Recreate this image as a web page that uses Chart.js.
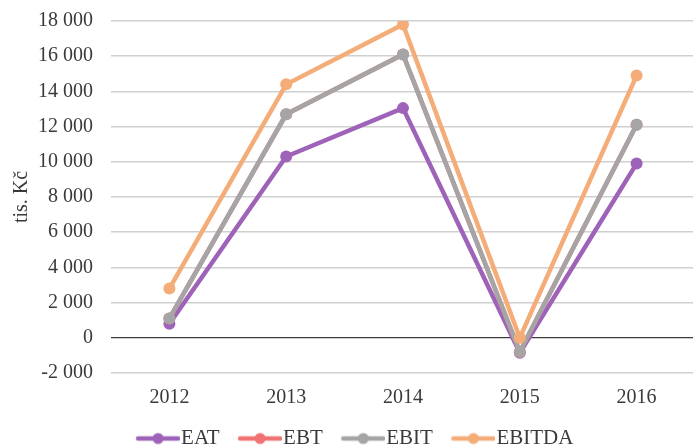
<!DOCTYPE html>
<html>
<head>
<meta charset="utf-8">
<script src="https://cdn.jsdelivr.net/npm/chart.js@4/dist/chart.umd.min.js"></script>
<style>
  html, body { margin: 0; padding: 0; background: #fff; overflow: hidden; }
  #wrap { width: 693px; height: 445px; overflow: hidden; position: relative; }
  #box { position: absolute; left: 0; top: 0; width: 701px; height: 459px; }
</style>
</head>
<body>
<div id="wrap"><div id="box"><canvas id="c"></canvas></div></div>
<script>
// Years on the category axis
const years = ['2012', '2013', '2014', '2015', '2016'];

// Profit indicators, thousands of CZK
const eat    = [800, 10300, 13050, -850, 9900];
const ebt    = [1100, 12700, 16100, -800, 12100];
const ebit   = [1100, 12700, 16100, -800, 12100];
const ebitda = [2800, 14400, 17800, 0, 14900];

const seriesNames = ['EAT', 'EBT', 'EBIT', 'EBITDA'];
const seriesColors = ['#9e63b8', '#f07272', '#a5a5a5', '#f4ad78'];

const yAxisTitle = 'tis. Kč';
const yMin = -2000, yMax = 18000, yStep = 2000;

const FONT = '"Liberation Serif", "Times New Roman", serif';

// line-with-marker legend symbol; the drawn part sits right of the
// image centre so it ends just before the label text
function swatch(color) {
  const c = document.createElement('canvas');
  c.width = 62; c.height = 14;
  const g = c.getContext('2d');
  g.strokeStyle = color; g.lineWidth = 4.5; g.lineCap = 'round';
  g.beginPath(); g.moveTo(20, 7); g.lineTo(60, 7); g.stroke();
  g.fillStyle = color;
  g.beginPath(); g.arc(40, 7, 5.5, 0, Math.PI * 2); g.fill();
  return c;
}

function fmt(v) {
  const s = Math.abs(v).toString().replace(/\B(?=(\d{3})+(?!\d))/g, '\u00a0');
  return (v < 0 ? '-' : '') + s;
}

const seriesData = [eat, ebt, ebit, ebitda];
const datasets = seriesNames.map((name, i) => ({
  label: name,
  data: seriesData[i],
  borderColor: seriesColors[i],
  backgroundColor: seriesColors[i],
  borderWidth: 4.5,
  pointRadius: 6,
  pointHoverRadius: 6,
  pointBorderWidth: 0,
  pointStyle: 'circle',
  tension: 0,
  order: seriesNames.length - i,
  swatch: swatch(seriesColors[i])
}));

new Chart(document.getElementById('c'), {
  type: 'line',
  data: { labels: years, datasets },
  options: {
    responsive: true,
    maintainAspectRatio: false,
    animation: false,
    layout: { padding: { top: 21, left: 0, right: 0, bottom: 0 } },
    plugins: {
      tooltip: { enabled: false },
      legend: {
        position: 'bottom',
        labels: {
          font: { family: FONT, size: 21 },
          color: '#3a3a3a',
          usePointStyle: true,
          pointStyleWidth: 43,
          padding: 10,
          sort: (a, b) => a.datasetIndex - b.datasetIndex,
          generateLabels: (chart) => chart.data.datasets.map((ds, i) => ({
            text: ds.label,
            fillStyle: ds.borderColor,
            strokeStyle: ds.borderColor,
            pointStyle: ds.swatch,
            fontColor: '#3a3a3a',
            lineWidth: 0,
            hidden: false,
            datasetIndex: i
          }))
        }
      }
    },
    scales: {
      x: {
        offset: true,
        grid: { display: false, drawTicks: false },
        border: { display: false },
        ticks: { font: { family: FONT, size: 20 }, color: '#3a3a3a', padding: 13 },
        afterFit: (s) => { s.height = 45; }
      },
      y: {
        min: yMin,
        max: yMax,
        ticks: {
          stepSize: yStep,
          font: { family: FONT, size: 20 },
          color: '#3a3a3a',
          padding: 18,
          callback: (v) => fmt(v)
        },
        grid: {
          drawTicks: false,
          color: (ctx) => (ctx.tick && ctx.tick.value === 0) ? '#3c3c3c' : '#d0d0d0',
          lineWidth: (ctx) => (ctx.tick && ctx.tick.value === 0) ? 1.2 : 1.5
        },
        border: { display: false },
        title: {
          display: true,
          text: yAxisTitle,
          font: { family: FONT, size: 20 },
          color: '#3a3a3a',
          padding: { top: 10, bottom: 0 }
        },
        afterFit: (s) => { s.width = 111; s.paddingTop = 0; s.paddingBottom = 0; }
      }
    }
  }
});
</script>
</body>
</html>
